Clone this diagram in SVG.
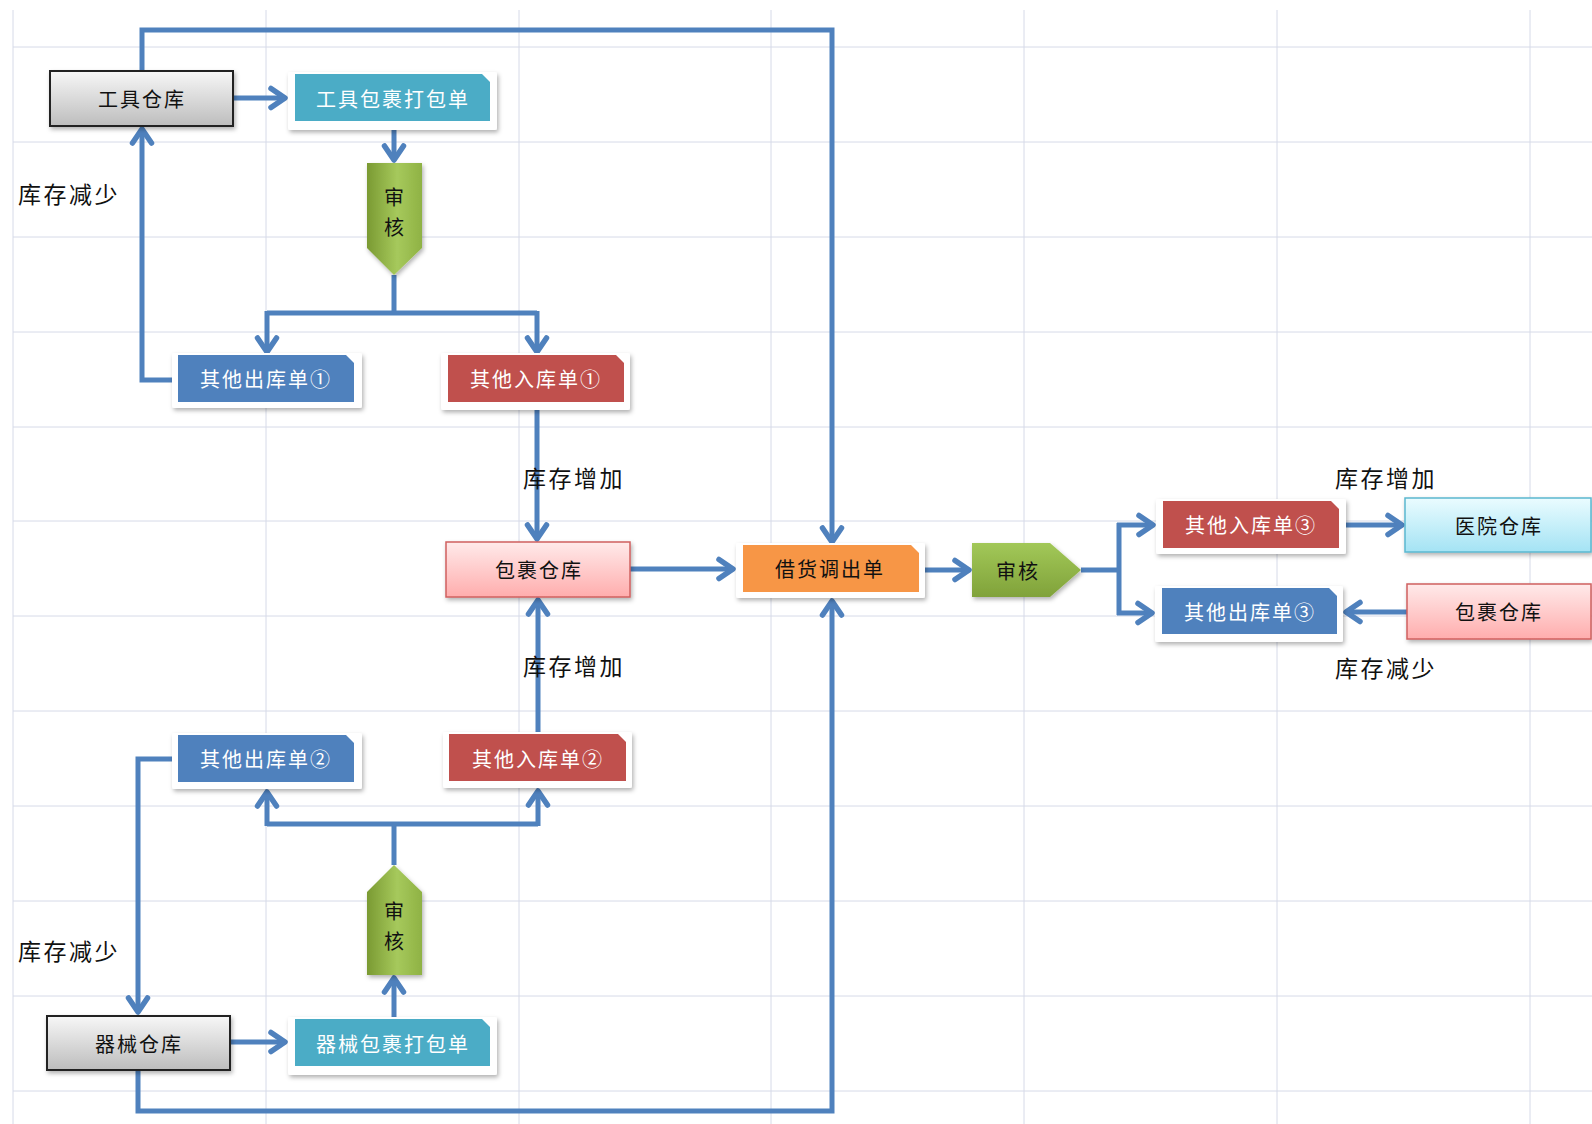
<svg xmlns="http://www.w3.org/2000/svg" width="1592" height="1124" viewBox="0 0 1592 1124">
<defs>
  <style>
    .grid line { stroke: #d6dae8; stroke-width: 1; }
    .conn { fill: none; stroke: #4f81bd; stroke-width: 5; stroke-linejoin: miter; }
    .arrow { marker-end: url(#arr); }
    .frame { fill: #ffffff; filter: url(#shadow); }
    .t { font-family: "Noto Sans CJK SC", "Liberation Sans", sans-serif; font-size: 20px; text-anchor: middle; dominant-baseline: central; letter-spacing: 2px; }
    .w { fill: #ffffff; }
    .k { fill: #111111; }
    .lbl { font-family: "Noto Sans CJK SC", "Liberation Sans", sans-serif; font-size: 23px; fill: #111111; dominant-baseline: central; letter-spacing: 2.5px; }
    .teal { fill: #4bacc6; }
    .blue { fill: #4f81bd; }
    .red { fill: #c0504d; }
    .orange { fill: #f79646; }
  </style>
  <marker id="arr" markerUnits="userSpaceOnUse" markerWidth="30" markerHeight="30" refX="17" refY="15" orient="auto" overflow="visible">
    <path d="M 3 5.5 L 17 15 L 3 24.5" fill="none" stroke="#4f81bd" stroke-width="5.5" stroke-linejoin="round" stroke-linecap="round"/>
  </marker>
  <filter id="shadow" x="-10%" y="-20%" width="130%" height="150%">
    <feDropShadow dx="1.5" dy="2.5" stdDeviation="2" flood-color="#000000" flood-opacity="0.3"/>
  </filter>
  <linearGradient id="gray" x1="0" y1="0" x2="0" y2="1">
    <stop offset="0" stop-color="#f7f7f7"/>
    <stop offset="1" stop-color="#bdbdbd"/>
  </linearGradient>
  <linearGradient id="pink" x1="0" y1="0" x2="0" y2="1">
    <stop offset="0" stop-color="#ffeaea"/>
    <stop offset="1" stop-color="#ffadad"/>
  </linearGradient>
  <linearGradient id="cyan" x1="0" y1="0" x2="0" y2="1">
    <stop offset="0" stop-color="#eafcff"/>
    <stop offset="1" stop-color="#a4e3f4"/>
  </linearGradient>
  <linearGradient id="greenV" x1="0" y1="0" x2="1" y2="0">
    <stop offset="0" stop-color="#7a9a32"/>
    <stop offset="0.55" stop-color="#a6c95c"/>
    <stop offset="1" stop-color="#8fb244"/>
  </linearGradient>
  <linearGradient id="greenH" x1="0" y1="0" x2="0" y2="1">
    <stop offset="0" stop-color="#a2c858"/>
    <stop offset="1" stop-color="#80a23a"/>
  </linearGradient>
</defs>

<rect x="0" y="0" width="1592" height="1124" fill="#ffffff"/>

<g class="grid">
  <line x1="13" y1="10" x2="13" y2="1124"/>
  <line x1="266" y1="10" x2="266" y2="1124"/>
  <line x1="519" y1="10" x2="519" y2="1124"/>
  <line x1="771" y1="10" x2="771" y2="1124"/>
  <line x1="1024" y1="10" x2="1024" y2="1124"/>
  <line x1="1277" y1="10" x2="1277" y2="1124"/>
  <line x1="1530" y1="10" x2="1530" y2="1124"/>
  <line x1="13" y1="47" x2="1592" y2="47"/>
  <line x1="13" y1="142" x2="1592" y2="142"/>
  <line x1="13" y1="237" x2="1592" y2="237"/>
  <line x1="13" y1="332" x2="1592" y2="332"/>
  <line x1="13" y1="427" x2="1592" y2="427"/>
  <line x1="13" y1="521" x2="1592" y2="521"/>
  <line x1="13" y1="616" x2="1592" y2="616"/>
  <line x1="13" y1="711" x2="1592" y2="711"/>
  <line x1="13" y1="806" x2="1592" y2="806"/>
  <line x1="13" y1="901" x2="1592" y2="901"/>
  <line x1="13" y1="996" x2="1592" y2="996"/>
  <line x1="13" y1="1091" x2="1592" y2="1091"/>
</g>

<g id="connectors">
  <path class="conn arrow" d="M 233 98 H 285"/>
  <path class="conn arrow" d="M 394 130 V 160"/>
  <path class="conn" d="M 394 275 V 313 M 267 313 H 537"/>
  <path class="conn arrow" d="M 267 311 V 352"/>
  <path class="conn arrow" d="M 537 311 V 352"/>
  <path class="conn arrow" d="M 172 380 H 142 V 129"/>
  <path class="conn arrow" d="M 142 71 V 30 H 832 V 542"/>
  <path class="conn arrow" d="M 537 410 V 539"/>
  <path class="conn arrow" d="M 630 569 H 733"/>
  <path class="conn arrow" d="M 538 734 V 600"/>
  <path class="conn" d="M 394 865 V 824 M 267 824 H 538"/>
  <path class="conn arrow" d="M 267 826 V 792"/>
  <path class="conn arrow" d="M 538 826 V 791"/>
  <path class="conn arrow" d="M 394 1019 V 978"/>
  <path class="conn arrow" d="M 230 1042 H 285"/>
  <path class="conn arrow" d="M 172 759 H 138 V 1012"/>
  <path class="conn arrow" d="M 138 1070 V 1111 H 832 V 601"/>
  <path class="conn arrow" d="M 925 570 H 969"/>
  <path class="conn" d="M 1081 570 H 1119 M 1119 523 V 615"/>
  <path class="conn arrow" d="M 1117 525 H 1153"/>
  <path class="conn arrow" d="M 1117 613 H 1152"/>
  <path class="conn arrow" d="M 1346 525 H 1402"/>
  <path class="conn arrow" d="M 1407 612 H 1346"/>
</g>

<g id="tool-warehouse">
  <rect x="50" y="71" width="183" height="55" fill="url(#gray)" stroke="#222222" stroke-width="2" filter="url(#shadow)"/>
  <text class="t k" x="142" y="98.5">工具仓库</text>
</g>

<g id="tool-pack">
  <rect class="frame" x="288" y="72" width="209" height="58" rx="2"/>
  <path class="teal" d="M 295 74 H 482 L 490 82 V 121 H 295 Z"/>
  <text class="t w" x="393" y="98">工具包裹打包单</text>
</g>

<g id="audit-1">
  <polygon points="367,163 422,163 422,248 394,275 367,248" fill="url(#greenV)" filter="url(#shadow)"/>
  <text class="t k" x="395" y="196">审</text>
  <text class="t k" x="395" y="226">核</text>
</g>

<g id="out-1">
  <rect class="frame" x="172" y="353" width="190" height="55" rx="2"/>
  <path class="blue" d="M 178 355 H 346 L 354 363 V 402 H 178 Z"/>
  <text class="t w" x="266" y="378.5">其他出库单①</text>
</g>

<g id="in-1">
  <rect class="frame" x="441" y="353" width="189" height="57" rx="2"/>
  <path class="red" d="M 448 355 H 616 L 624 363 V 402 H 448 Z"/>
  <text class="t w" x="536" y="378.5">其他入库单①</text>
</g>

<g id="parcel-warehouse">
  <rect x="446" y="542" width="184" height="55" fill="url(#pink)" stroke="#d0605f" stroke-width="1.5" filter="url(#shadow)"/>
  <text class="t k" x="539" y="569.5">包裹仓库</text>
</g>

<g id="borrow-out">
  <rect class="frame" x="736" y="543" width="189" height="55" rx="2"/>
  <path class="orange" d="M 743 545 H 911 L 919 553 V 592 H 743 Z"/>
  <text class="t k" x="830" y="568.5">借货调出单</text>
</g>

<g id="audit-3">
  <polygon points="972,543 1050,543 1081,570 1050,597 972,597" fill="url(#greenH)" filter="url(#shadow)"/>
  <text class="t k" x="1018" y="570">审核</text>
</g>

<g id="in-3">
  <rect class="frame" x="1156" y="499" width="190" height="55" rx="2"/>
  <path class="red" d="M 1163 501 H 1331 L 1339 509 V 548 H 1163 Z"/>
  <text class="t w" x="1251" y="524.5">其他入库单③</text>
</g>

<g id="out-3">
  <rect class="frame" x="1155" y="586" width="188" height="56" rx="2"/>
  <path class="blue" d="M 1162 588 H 1329 L 1337 596 V 634 H 1162 Z"/>
  <text class="t w" x="1250" y="611">其他出库单③</text>
</g>

<g id="hospital-warehouse">
  <rect x="1405" y="498" width="186" height="54" fill="url(#cyan)" stroke="#5bb8d0" stroke-width="1.5" filter="url(#shadow)"/>
  <text class="t k" x="1499" y="525">医院仓库</text>
</g>

<g id="parcel-warehouse-2">
  <rect x="1407" y="584" width="184" height="55" fill="url(#pink)" stroke="#d0605f" stroke-width="1.5" filter="url(#shadow)"/>
  <text class="t k" x="1499" y="611.5">包裹仓库</text>
</g>

<g id="out-2">
  <rect class="frame" x="172" y="733" width="190" height="56" rx="2"/>
  <path class="blue" d="M 178 735 H 346 L 354 743 V 782 H 178 Z"/>
  <text class="t w" x="266" y="758.5">其他出库单②</text>
</g>

<g id="in-2">
  <rect class="frame" x="443" y="732" width="189" height="56" rx="2"/>
  <path class="red" d="M 449 734 H 618 L 626 742 V 781 H 449 Z"/>
  <text class="t w" x="538" y="758">其他入库单②</text>
</g>

<g id="audit-2">
  <polygon points="394,865 422,892 422,975 367,975 367,892" fill="url(#greenV)" filter="url(#shadow)"/>
  <text class="t k" x="395" y="910">审</text>
  <text class="t k" x="395" y="940">核</text>
</g>

<g id="device-warehouse">
  <rect x="47" y="1016" width="183" height="54" fill="url(#gray)" stroke="#222222" stroke-width="2" filter="url(#shadow)"/>
  <text class="t k" x="139" y="1043">器械仓库</text>
</g>

<g id="device-pack">
  <rect class="frame" x="288" y="1017" width="209" height="58" rx="2"/>
  <path class="teal" d="M 295 1019 H 482 L 490 1027 V 1066 H 295 Z"/>
  <text class="t w" x="393" y="1043">器械包裹打包单</text>
</g>

<g id="labels">
  <text class="lbl" x="18" y="193">库存减少</text>
  <text class="lbl" x="523" y="477">库存增加</text>
  <text class="lbl" x="523" y="665">库存增加</text>
  <text class="lbl" x="18" y="950">库存减少</text>
  <text class="lbl" x="1335" y="477">库存增加</text>
  <text class="lbl" x="1335" y="667">库存减少</text>
</g>
</svg>
